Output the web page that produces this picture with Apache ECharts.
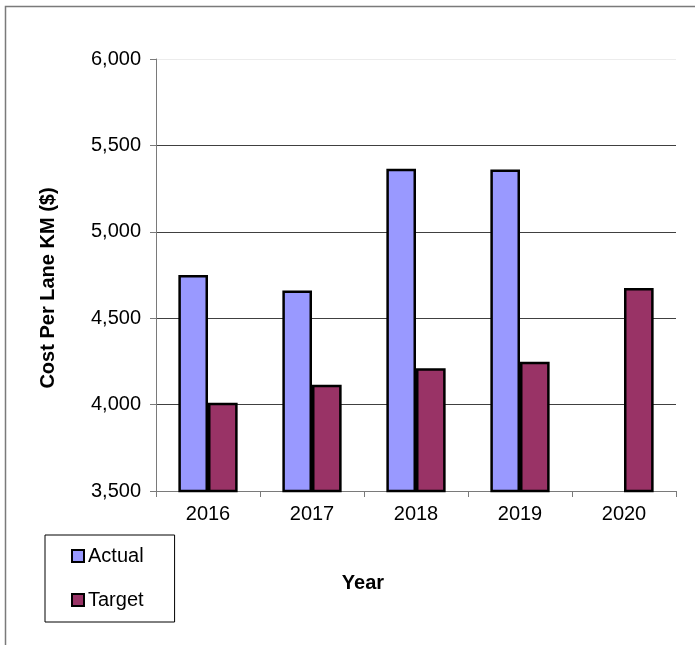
<!DOCTYPE html>
<html>
<head>
<meta charset="utf-8">
<title>Cost Per Lane KM</title>
<script src="https://cdn.jsdelivr.net/npm/echarts@6/dist/echarts.min.js"></script>
<style>
  html, body { margin: 0; padding: 0; background: #fff; }
  #chart { width: 695px; height: 645px; }
</style>
</head>
<body>
<div id="chart"></div>
<script>
// Cost per lane kilometre, actual vs target, by year
const years = ['2016', '2017', '2018', '2019', '2020'];
const actual = [4750, 4660, 5365, 5360, null];
const target = [4010, 4115, 4210, 4248, 4675];
const yTicks = { min: 3500, max: 6000, step: 500 };

const FONT = '"Liberation Sans", Arial, sans-serif';

const chart = echarts.init(document.getElementById('chart'), null, { renderer: 'canvas' });

chart.setOption({
  animation: false,
  backgroundColor: '#ffffff',
  textStyle: { fontFamily: FONT, color: '#000' },
  graphic: [
    {
      type: 'rect',
      shape: { x: 5.5, y: 6.5, width: 900, height: 900 },
      style: { fill: 'none', stroke: '#7a7a7a', lineWidth: 1.5 },
      silent: true,
      z: -10
    }
  ],
  grid: { left: 156, right: 19, top: 59, bottom: 154, containLabel: false },
  legend: {
    orient: 'vertical',
    left: 45,
    top: 535,
    padding: [11, 31, 12, 26],
    itemGap: 24,
    itemWidth: 12,
    itemHeight: 12,
    icon: 'rect',
    backgroundColor: '#fff',
    borderColor: '#000',
    borderWidth: 1,
    itemStyle: { borderColor: '#000', borderWidth: 2 },
    textStyle: { fontFamily: FONT, fontSize: 20, color: '#000', padding: [0, 0, 0, -1] },
    data: ['Actual', 'Target']
  },
  xAxis: {
    type: 'category',
    data: years,
    name: 'Year',
    nameLocation: 'middle',
    nameGap: 82,
    nameTextStyle: { fontFamily: FONT, fontSize: 20, fontWeight: 'bold', color: '#000', padding: [0, 106, 0, 0] },
    axisLine: { show: true, lineStyle: { color: '#7a7a7a', width: 1 } },
    axisTick: { show: true, length: 6, lineStyle: { color: '#7a7a7a' } },
    axisLabel: { fontFamily: FONT, fontSize: 20, color: '#000', margin: 13 },
    splitLine: { show: false }
  },
  yAxis: {
    type: 'value',
    min: yTicks.min,
    max: yTicks.max,
    interval: yTicks.step,
    name: 'Cost Per Lane KM ($)',
    nameLocation: 'middle',
    nameGap: 98,
    nameTextStyle: { fontFamily: FONT, fontSize: 20, fontWeight: 'bold', color: '#000', padding: [0, 26, 0, 0] },
    axisLine: { show: true, lineStyle: { color: '#7a7a7a', width: 1 } },
    axisTick: { show: true, inside: false, length: 6, lineStyle: { color: '#7a7a7a' } },
    axisLabel: {
      fontFamily: FONT, fontSize: 20, color: '#000', margin: 15,
      formatter: v => v.toLocaleString('en-US')
    },
    splitLine: {
      show: true,
      lineStyle: { color: ['#404040', '#404040', '#404040', '#404040', '#404040', '#ececec'], width: 1 }
    }
  },
  series: [
    {
      name: 'Actual',
      type: 'bar',
      data: actual,
      barGap: '0%',
      barCategoryGap: '43%',
      itemStyle: { color: '#9999ff', borderColor: '#000', borderWidth: 2.5 }
    },
    {
      name: 'Target',
      type: 'bar',
      data: target,
      barGap: '0%',
      barCategoryGap: '43%',
      itemStyle: { color: '#993366', borderColor: '#000', borderWidth: 2.5 }
    }
  ]
});
</script>
</body>
</html>
